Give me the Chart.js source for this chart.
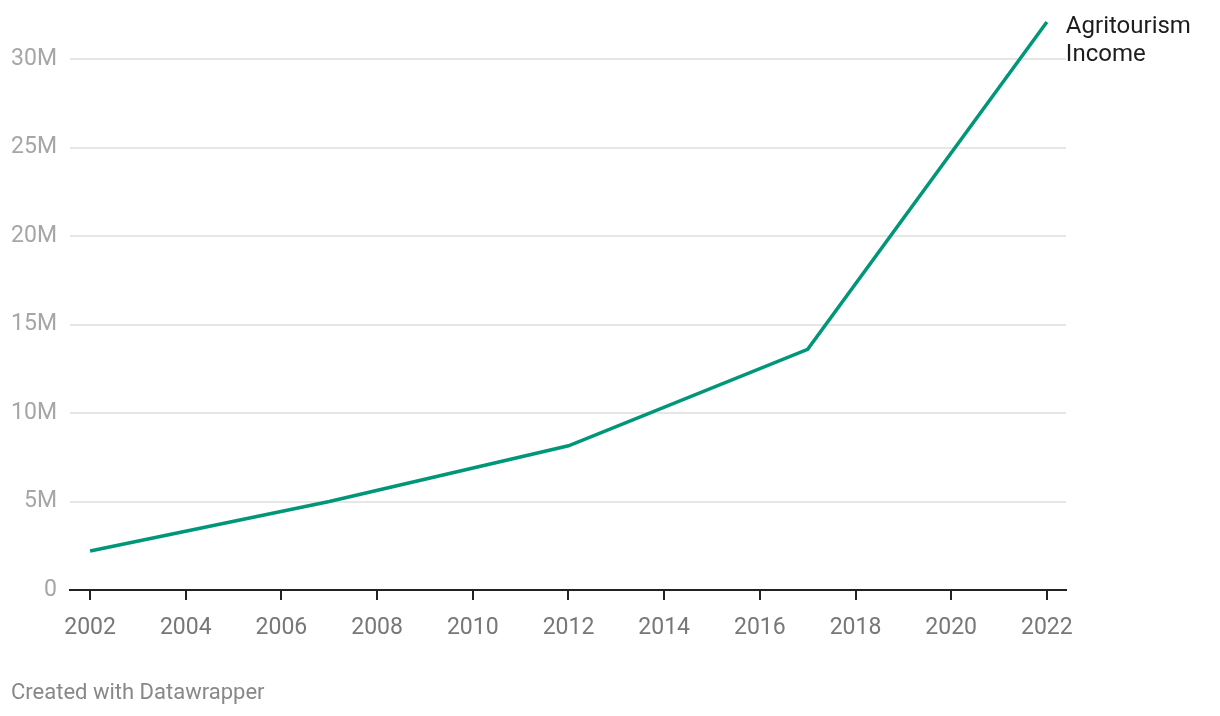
<!DOCTYPE html>
<html>
<head>
<meta charset="utf-8">
<script src="https://cdn.jsdelivr.net/npm/chart.js@4"></script>
<style>
  html, body { margin: 0; padding: 0; background: #fff; }
  #wrap { position: relative; width: 1220px; height: 716px; }
  #footer { position: absolute; left: 11px; top: 679px; font: 22px Roboto, sans-serif; color: #888; }
</style>
</head>
<body>
<div id="wrap">
  <canvas id="chart" width="1220" height="716"></canvas>
  <div id="footer">Created with Datawrapper</div>
</div>
<script>
// ====== DATA ======
const years = [2002, 2007, 2012, 2017, 2022];
const income = [2200000, 5000000, 8150000, 13600000, 32100000];
const seriesLabel = ["Agritourism", "Income"];

// ====== TICKS ======
const xTicks = [2002, 2004, 2006, 2008, 2010, 2012, 2014, 2016, 2018, 2020, 2022];
const yTicks = [0, 5000000, 10000000, 15000000, 20000000, 25000000, 30000000];
const yTickLabels = ["0", "5M", "10M", "15M", "20M", "25M", "30M"];

const lineColor = "#009678";

// Line-end label, drawn next to the last point
const endLabel = {
  id: 'endLabel',
  afterDatasetsDraw(chart) {
    const meta = chart.getDatasetMeta(0);
    const last = meta.data[meta.data.length - 1];
    const ctx = chart.ctx;
    ctx.save();
    ctx.font = '24px Roboto, sans-serif';
    ctx.fillStyle = '#1d1d1d';
    ctx.textBaseline = 'middle';
    ctx.textAlign = 'left';
    seriesLabel.forEach((txt, i) => ctx.fillText(txt, last.x + 19, last.y + 5 + i * 28));
    ctx.restore();
  }
};

new Chart(document.getElementById('chart').getContext('2d'), {
  type: 'line',
  data: {
    datasets: [{
      data: years.map((y, i) => ({ x: y, y: income[i] })),
      borderColor: lineColor,
      borderWidth: 3.5,
      pointRadius: 0,
      tension: 0,
      clip: false
    }]
  },
  options: {
    responsive: false,
    animation: false,
    layout: { padding: { top: 15, left: 0, right: 154, bottom: 66 } },
    plugins: { legend: { display: false }, tooltip: { enabled: false } },
    scales: {
      x: {
        type: 'linear',
        min: 2001.58,
        max: 2022.4,
        afterBuildTicks: s => { s.ticks = xTicks.map(v => ({ value: v })); },
        afterFit: s => { s.height = 60; },
        ticks: {
          callback: v => String(v),
          color: '#777',
          font: { family: 'Roboto', size: 23 },
          padding: 14,
          autoSkip: false,
          maxRotation: 0
        },
        grid: { display: true, drawOnChartArea: false, drawTicks: true, tickLength: 10, color: '#222', lineWidth: 2 },
        border: { display: true, color: '#222', width: 2 }
      },
      y: {
        min: 0,
        max: 32500000,
        afterBuildTicks: s => { s.ticks = yTicks.map(v => ({ value: v })); },
        afterFit: s => { s.width = 70; s.paddingTop = 0; s.paddingBottom = 0; },
        ticks: {
          callback: (v, i) => yTickLabels[i],
          color: '#a6a6a6',
          font: { family: 'Roboto', size: 23 },
          padding: 13
        },
        grid: { color: '#e6e6e6', lineWidth: 2, drawTicks: false },
        border: { display: false }
      }
    }
  },
  plugins: [endLabel]
});
</script>
</body>
</html>
